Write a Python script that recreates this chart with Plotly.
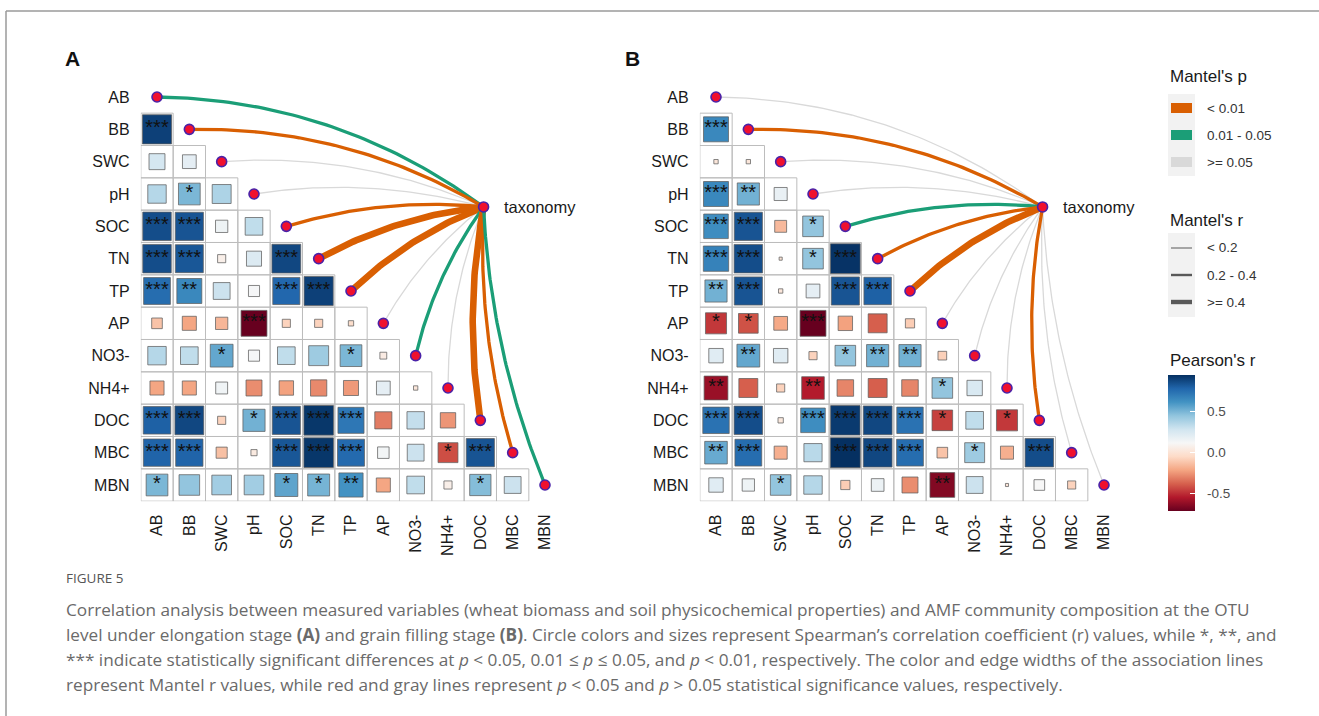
import numpy as np
import plotly.graph_objects as go

# ---------------- DATA ----------------
VARS = ["AB", "BB", "SWC", "pH", "SOC", "TN", "TP", "AP", "NO3-", "NH4+", "DOC", "MBC", "MBN"]

# Lower-triangle Pearson's r (row i = VARS[i], columns 0..i-1); panel A (elongation stage)
R_A = [
    [],
    [0.90],
    [0.27, 0.20],
    [0.36, 0.50, 0.38],
    [0.86, 0.84, 0.16, 0.33],
    [0.86, 0.83, 0.07, 0.24, 0.88],
    [0.76, 0.66, 0.30, 0.13, 0.78, 0.90],
    [-0.12, -0.21, -0.16, -0.71, -0.07, -0.07, -0.03],
    [0.36, 0.33, 0.55, 0.13, 0.33, 0.42, 0.50, 0.05],
    [-0.21, -0.21, 0.15, -0.27, -0.22, -0.28, -0.24, 0.20, 0.02],
    [0.80, 0.88, -0.07, 0.52, 0.84, 0.93, 0.72, -0.31, 0.32, -0.25],
    [0.79, 0.79, -0.13, 0.04, 0.83, 0.93, 0.77, 0.14, 0.30, -0.42, 0.84],
    [0.50, 0.45, 0.41, 0.41, 0.56, 0.51, 0.62, -0.21, 0.33, 0.07, 0.48, 0.30],
]
SIG_A = [
    [],
    ["***"],
    ["", ""],
    ["", "*", ""],
    ["***", "***", "", ""],
    ["***", "***", "", "", "***"],
    ["***", "**", "", "", "***", "***"],
    ["", "", "", "***", "", "", ""],
    ["", "", "*", "", "", "", "*", ""],
    ["", "", "", "", "", "", "", "", ""],
    ["***", "***", "", "*", "***", "***", "***", "", "", ""],
    ["***", "***", "", "", "***", "***", "***", "", "", "*", "***"],
    ["*", "", "", "", "*", "*", "**", "", "", "", "*", ""],
]
# panel B (grain filling stage)
R_B = [
    [],
    [0.66],
    [0.02, 0.02],
    [0.66, 0.52, 0.18],
    [0.64, 0.84, -0.15, 0.45],
    [0.68, 0.86, 0.01, 0.45, 0.94],
    [0.52, 0.84, 0.02, 0.20, 0.84, 0.80],
    [-0.47, -0.41, -0.20, -0.71, -0.22, -0.38, -0.09],
    [0.22, 0.55, 0.22, -0.07, 0.45, 0.52, 0.52, -0.08],
    [-0.60, -0.38, -0.07, -0.54, -0.29, -0.38, -0.29, 0.45, 0.25],
    [0.74, 0.86, 0.03, 0.64, 0.92, 0.88, 0.74, -0.45, 0.33, -0.47],
    [0.54, 0.76, -0.18, 0.35, 0.95, 0.88, 0.76, -0.12, 0.42, -0.18, 0.86],
    [0.22, 0.16, 0.45, 0.36, -0.09, 0.17, -0.27, -0.65, 0.30, 0.01, 0.12, -0.07],
]
SIG_B = [
    [],
    ["***"],
    ["", ""],
    ["***", "**", ""],
    ["***", "***", "", "*"],
    ["***", "***", "", "*", "***"],
    ["**", "***", "", "", "***", "***"],
    ["*", "*", "", "***", "", "", ""],
    ["", "**", "", "", "*", "**", "**", ""],
    ["**", "", "", "**", "", "", "", "*", ""],
    ["***", "***", "", "***", "***", "***", "***", "*", "", "*"],
    ["**", "***", "", "", "***", "***", "***", "", "*", "", "***"],
    ["", "", "*", "", "", "", "", "**", "", "", "", ""],
]

P_LEVELS = ["< 0.01", "0.01 - 0.05", ">= 0.05"]
R_LEVELS = ["< 0.2", "0.2 - 0.4", ">= 0.4"]

MANTEL_P_A = ["0.01 - 0.05", "< 0.01", ">= 0.05", ">= 0.05", "< 0.01", "< 0.01", "< 0.01",
              ">= 0.05", "0.01 - 0.05", ">= 0.05", "< 0.01", "< 0.01", "0.01 - 0.05"]
MANTEL_R_A = ["0.2 - 0.4", "0.2 - 0.4", "< 0.2", "< 0.2", "0.2 - 0.4", ">= 0.4", ">= 0.4",
              "< 0.2", "0.2 - 0.4", "< 0.2", ">= 0.4", "0.2 - 0.4", "0.2 - 0.4"]
MANTEL_P_B = [">= 0.05", "< 0.01", ">= 0.05", ">= 0.05", "0.01 - 0.05", "< 0.01", "< 0.01",
              ">= 0.05", ">= 0.05", ">= 0.05", "< 0.01", ">= 0.05", ">= 0.05"]
MANTEL_R_B = ["< 0.2", "0.2 - 0.4", "< 0.2", "< 0.2", "0.2 - 0.4", "0.2 - 0.4", ">= 0.4",
              "< 0.2", "< 0.2", "< 0.2", "0.2 - 0.4", "< 0.2", "< 0.2"]

PEARSON_TICKS = [-0.5, 0.0, 0.5]
SPEC_LABEL = "taxonomy"

# ---------------- STYLE ----------------
W, H = 1319, 716
CW = 32.333                      # cell pitch in px
ROW0_PY = 97
PANELS = [
    dict(name="A", col0=157, right=600, R=R_A, S=SIG_A, MP=MANTEL_P_A, MR=MANTEL_R_A, letter_x=72),
    dict(name="B", col0=716, right=1160, R=R_B, S=SIG_B, MP=MANTEL_P_B, MR=MANTEL_R_B, letter_x=632),
]
TAXON_POS = (10.1, 3.4)           # node position in cell units
P_COLORS = {"< 0.01": "#D95F02", "0.01 - 0.05": "#1B9E77", ">= 0.05": "#D9D9D9"}
R_WIDTHS = {"< 0.2": 1.3, "0.2 - 0.4": 3.3, ">= 0.4": 6.6}
R_LEG_WIDTHS = {"< 0.2": 1.0, "0.2 - 0.4": 2.4, ">= 0.4": 4.4}
RDBU = ["#67001F", "#B2182B", "#D6604D", "#F4A582", "#FDDBC7", "#F7F7F7",
        "#D1E5F0", "#92C5DE", "#4393C3", "#2166AC", "#053061"]
COLORSCALE = [[i / 10, c] for i, c in enumerate(RDBU)]
FONT = "Arial, Liberation Sans, sans-serif"
TXT = "#1a1a1a"
CB_TOP, CB_LEN = 375, 136

all_r = [v for P in (R_A, R_B) for row in P for v in row]
CMIN, CMAX = min(all_r), max(all_r)


def pxx(x):
    return x / W


def pyy(y):
    return 1 - y / H


fig = go.Figure()
annotations = []
shapes = []

for k, P in enumerate(PANELS):
    xa = "x" if k == 0 else "x2"
    ya = "y" if k == 0 else "y2"
    xkey = "xaxis" if k == 0 else "xaxis2"
    ykey = "yaxis" if k == 0 else "yaxis2"
    n = len(VARS)

    # grid cells
    gx, gy = [], []
    for i in range(1, n):
        for j in range(i):
            gx += [j - 0.5, j + 0.5, j + 0.5, j - 0.5, j - 0.5, None]
            gy += [i - 0.5, i - 0.5, i + 0.5, i + 0.5, i - 0.5, None]
    fig.add_trace(go.Scatter(x=gx, y=gy, mode="lines", xaxis=xa, yaxis=ya,
                             line=dict(color="#BDBDBD", width=1), hoverinfo="skip",
                             showlegend=False))

    # squares
    sx, sy, sr, ss, st = [], [], [], [], []
    for i in range(1, n):
        for j in range(i):
            r = P["R"][i][j]
            sx.append(j)
            sy.append(i)
            sr.append(r)
            ss.append(np.sqrt(abs(r)) * CW * 0.95)
            st.append(P["S"][i][j])
    marker = dict(symbol="square", size=ss, color=sr, colorscale=COLORSCALE, opacity=1,
                  cmin=CMIN, cmax=CMAX, line=dict(color="rgba(95,95,95,0.75)", width=1))
    if k == 0:
        marker.update(showscale=True, colorbar=dict(
            thickness=27, thicknessmode="pixels", len=CB_LEN, lenmode="pixels",
            x=pxx(1168), xanchor="left", xpad=0, y=pyy(CB_TOP), yanchor="top", ypad=0,
            outlinewidth=0, tickvals=PEARSON_TICKS, showticklabels=False,
            ticks="inside", ticklen=5, tickcolor="white", tickwidth=1))
    else:
        marker.update(showscale=False)
    fig.add_trace(go.Scatter(x=sx, y=sy, mode="markers", xaxis=xa, yaxis=ya, marker=marker,
                             hovertemplate="r=%{marker.color}<extra></extra>", showlegend=False))
    fig.add_trace(go.Scatter(x=sx, y=sy, mode="text", text=st, xaxis=xa, yaxis=ya,
                             textposition="middle center",
                             textfont=dict(family=FONT, size=20, color="#111"),
                             hoverinfo="skip", showlegend=False))

    # Mantel links
    tx, ty = TAXON_POS
    order = sorted(range(n), key=lambda i: (P["MP"][i] != ">= 0.05", i))
    for i in order:
        x1, y1 = float(i), float(i)
        dx, dy = tx - x1, ty - y1
        L = np.hypot(dx, dy)
        nx, ny = dy / L, -dx / L
        up = max(0.0, min(1.0, (ty - y1) / ty))
        ratio = 0.05 + 0.03 * up
        if y1 > ty + 6:
            ratio = 0.043
        s = ratio * L
        mx, my = (x1 + tx) / 2, (y1 + ty) / 2
        qx, qy = mx + nx * 2 * s, my + ny * 2 * s
        t = np.linspace(0, 1, 60)
        bx = (1 - t) ** 2 * x1 + 2 * (1 - t) * t * qx + t ** 2 * tx
        by = (1 - t) ** 2 * y1 + 2 * (1 - t) * t * qy + t ** 2 * ty
        fig.add_trace(go.Scatter(x=bx, y=by, mode="lines", xaxis=xa, yaxis=ya,
                                 line=dict(color=P_COLORS[P["MP"][i]], width=R_WIDTHS[P["MR"][i]]),
                                 hoverinfo="skip", showlegend=False))

    # nodes
    fig.add_trace(go.Scatter(x=list(range(n)) + [tx], y=list(range(n)) + [ty], mode="markers",
                             xaxis=xa, yaxis=ya, cliponaxis=False,
                             marker=dict(size=10, color="#F0102E", opacity=1,
                                         line=dict(color="#4A22A8", width=1.6)),
                             hoverinfo="skip", showlegend=False))
    annotations.append(dict(x=tx + 18 / CW, y=ty, xref=xa, yref=ya, text=SPEC_LABEL,
                            showarrow=False, xanchor="left", yanchor="middle",
                            font=dict(family=FONT, size=16.5, color=TXT)))

    # axes
    left = P["col0"] - 0.5 * CW
    top = ROW0_PY - 0.5 * CW
    bottom = ROW0_PY + (n - 0.5) * CW
    fig.layout[xkey] = dict(domain=[pxx(left), pxx(P["right"])],
                            range=[-0.5, (P["right"] - P["col0"]) / CW],
                            anchor=ya, tickvals=list(range(n)), ticktext=VARS, tickangle=-90,
                            ticks="outside", ticklen=6, tickcolor="rgba(0,0,0,0)",
                            showgrid=False, zeroline=False, showline=False,
                            tickfont=dict(family=FONT, size=16, color=TXT))
    fig.layout[ykey] = dict(domain=[pyy(bottom), pyy(top)], range=[n - 0.5, -0.5],
                            anchor=xa, tickvals=list(range(n)), ticktext=VARS,
                            ticks="outside", ticklen=7, tickcolor="rgba(0,0,0,0)",
                            showgrid=False, zeroline=False, showline=False,
                            tickfont=dict(family=FONT, size=16, color=TXT))
    annotations.append(dict(x=pxx(P["letter_x"]), y=pyy(59), xref="paper", yref="paper",
                            text=f"<b>{P['name']}</b>", showarrow=False,
                            xanchor="center", yanchor="middle",
                            font=dict(family=FONT, size=21, color="#111")))

# ---------------- LEGENDS ----------------
LX = 1168
annotations.append(dict(x=pxx(LX), y=pyy(77), xref="paper", yref="paper", text="Mantel's p",
                        showarrow=False, xanchor="left", yanchor="middle",
                        font=dict(family=FONT, size=17, color=TXT)))
shapes.append(dict(type="rect", xref="paper", yref="paper", x0=pxx(LX), x1=pxx(LX + 27),
                   y0=pyy(94), y1=pyy(176), fillcolor="#F2F2F2", line=dict(width=0), layer="below"))
for m, lev in enumerate(P_LEVELS):
    yc = 108 + 27 * m
    shapes.append(dict(type="rect", xref="paper", yref="paper", x0=pxx(LX + 3), x1=pxx(LX + 24),
                       y0=pyy(yc - 5), y1=pyy(yc + 5), fillcolor=P_COLORS[lev], line=dict(width=0)))
    annotations.append(dict(x=pxx(1205), y=pyy(yc), xref="paper", yref="paper",
                            text=lev.replace("<", "&lt;"), showarrow=False, xanchor="left",
                            yanchor="middle", font=dict(family=FONT, size=13.5, color="#333")))

annotations.append(dict(x=pxx(LX), y=pyy(220), xref="paper", yref="paper", text="Mantel's r",
                        showarrow=False, xanchor="left", yanchor="middle",
                        font=dict(family=FONT, size=17, color=TXT)))
shapes.append(dict(type="rect", xref="paper", yref="paper", x0=pxx(LX), x1=pxx(LX + 27),
                   y0=pyy(233), y1=pyy(317), fillcolor="#F2F2F2", line=dict(width=0), layer="below"))
for m, lev in enumerate(R_LEVELS):
    yc = 248 + 27 * m
    shapes.append(dict(type="line", xref="paper", yref="paper", x0=pxx(LX + 3), x1=pxx(LX + 24),
                       y0=pyy(yc), y1=pyy(yc), line=dict(color="#595959", width=R_LEG_WIDTHS[lev])))
    annotations.append(dict(x=pxx(1205), y=pyy(yc), xref="paper", yref="paper",
                            text=lev.replace("<", "&lt;"), showarrow=False, xanchor="left",
                            yanchor="middle", font=dict(family=FONT, size=13.5, color="#333")))

annotations.append(dict(x=pxx(LX), y=pyy(360), xref="paper", yref="paper", text="Pearson's r",
                        showarrow=False, xanchor="left", yanchor="middle",
                        font=dict(family=FONT, size=17, color=TXT)))
for v in PEARSON_TICKS:
    yv = CB_TOP + (CMAX - v) / (CMAX - CMIN) * CB_LEN
    annotations.append(dict(x=pxx(1205), y=pyy(yv), xref="paper", yref="paper",
                            text=f"{v:.1f}", showarrow=False, xanchor="left", yanchor="middle",
                            font=dict(family=FONT, size=13.5, color="#4d4d4d")))

# ---------------- CAPTION ----------------
CAP_X = 64
CAP_FONT = "Open Sans, Lato, sans-serif"
CAPTION = [
    "Correlation analysis between measured variables (wheat biomass and soil physicochemical properties) and AMF community composition at the OTU",
    "level under elongation stage <b>(A)</b> and grain filling stage <b>(B)</b>. Circle colors and sizes represent Spearman’s correlation coefficient (r) values, while *, **, and",
    "*** indicate statistically significant differences at <i>p</i> &lt; 0.05, 0.01 ≤ <i>p</i> ≤ 0.05, and <i>p</i> &lt; 0.01, respectively. The color and edge widths of the association lines",
    "represent Mantel r values, while red and gray lines represent <i>p</i> &lt; 0.05 and <i>p</i> &gt; 0.05 statistical significance values, respectively.",
]
annotations.append(dict(x=pxx(CAP_X), y=pyy(578), xref="paper", yref="paper", text="FIGURE 5",
                        showarrow=False, xanchor="left", yanchor="middle",
                        font=dict(family=CAP_FONT, size=13.5, color="#555")))
for m, line in enumerate(CAPTION):
    annotations.append(dict(x=pxx(CAP_X), y=pyy(609 + 25 * m), xref="paper", yref="paper", text=line,
                            showarrow=False, xanchor="left", yanchor="middle", align="left",
                            font=dict(family=CAP_FONT, size=17.2, color="#6a6a6a")))

# figure frame
shapes.append(dict(type="line", xref="paper", yref="paper", x0=pxx(6), x1=pxx(6), y0=pyy(11), y1=0,
                   line=dict(color="#9a9a9a", width=1.5)))
shapes.append(dict(type="line", xref="paper", yref="paper", x0=pxx(6), x1=1, y0=pyy(11), y1=pyy(11),
                   line=dict(color="#9a9a9a", width=1.5)))

fig.update_layout(width=W, height=H, margin=dict(l=0, r=0, t=0, b=0),
                  paper_bgcolor="white", plot_bgcolor="white", showlegend=False,
                  annotations=annotations, shapes=shapes)
fig.write_html("out.html")
